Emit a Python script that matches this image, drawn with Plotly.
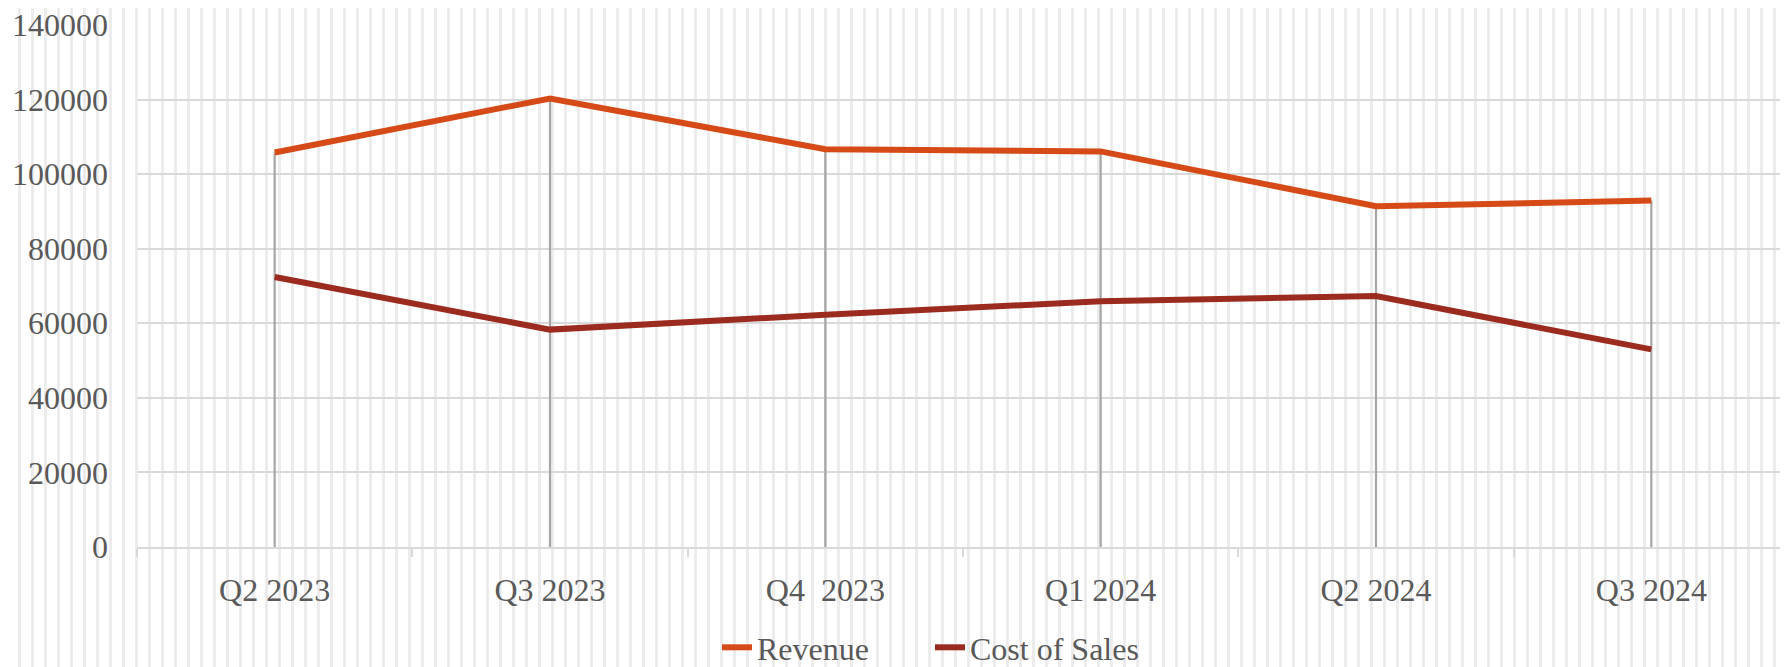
import plotly.graph_objects as go

categories = ["Q2 2023", "Q3 2023", "Q4  2023", "Q1 2024", "Q2 2024", "Q3 2024"]
revenue = [105800, 120300, 106700, 106100, 91400, 92900]
cost_of_sales = [72400, 58300, 62300, 65900, 67300, 53000]
y_ticks = [0, 20000, 40000, 60000, 80000, 100000, 120000, 140000]

W, H = 1788, 667
ML, MR, MT, MB = 129, 7, 17, 128
FONT = "Liberation Serif, Times New Roman, serif"
TXT = "#595959"

fig = go.Figure()

# drop lines from the highest point of each category down to the axis
dx, dy = [], []
for c, r, k in zip(categories, revenue, cost_of_sales):
    dx += [c, c, None]
    dy += [0, max(r, k), None]
fig.add_trace(go.Scatter(x=dx, y=dy, mode="lines", line=dict(color="#a6a6a6", width=2.2),
                         showlegend=False, hoverinfo="skip"))

fig.add_trace(go.Scatter(x=categories, y=revenue, mode="lines", name="Revenue",
                         line=dict(color="#d64a17", width=6)))
fig.add_trace(go.Scatter(x=categories, y=cost_of_sales, mode="lines", name="Cost of Sales",
                         line=dict(color="#9c2b1f", width=6)))

# vertical stripe pattern of the chart background
pw = W - ML - MR
ph = H - MT - MB
shapes = []
x = -1.5
while x < W + 10:
    px = (x - ML) / pw
    shapes.append(dict(type="line", xref="paper", yref="paper",
                       x0=px, x1=px, y0=-MB / ph - 0.05, y1=1 + MT / ph + 0.05,
                       line=dict(color="#ececec", width=3), layer="below"))
    x += 13

fig.update_layout(
    width=W, height=H,
    margin=dict(l=ML, r=MR, t=MT, b=MB, autoexpand=False),
    paper_bgcolor="white", plot_bgcolor="rgba(0,0,0,0)",
    font=dict(family=FONT, size=32, color=TXT),
    shapes=shapes,
    showlegend=True,
    legend=dict(orientation="h", xref="container", yref="container", x=709 / W, xanchor="left",
                y=-0.005, yanchor="bottom", font=dict(size=32, color=TXT),
                bgcolor="rgba(0,0,0,0)", entrywidth=168, entrywidthmode="pixels"),
    hovermode=False,
)
fig.update_xaxes(type="category", range=[-0.5, 5.5], showgrid=False, showline=True,
                 linecolor="#d9d9d9", linewidth=2, ticks="outside", tickson="boundaries",
                 ticklen=8, tickcolor="#d9d9d9", tickwidth=2, ticklabelstandoff=14,
                 automargin=False, ticklabeloverflow="allow",
                 tickfont=dict(size=32, color=TXT, family=FONT), zeroline=False)
fig.update_yaxes(range=[0, 140000], tickvals=y_ticks, tickformat="d", showgrid=True,
                 gridcolor="#d9d9d9", gridwidth=2, showline=False, zeroline=False,
                 automargin=False, ticklabeloverflow="allow",
                 ticks="", ticklabelstandoff=28, tickfont=dict(size=32, color=TXT, family=FONT))

fig.write_html("out.html", config={"displayModeBar": False})
